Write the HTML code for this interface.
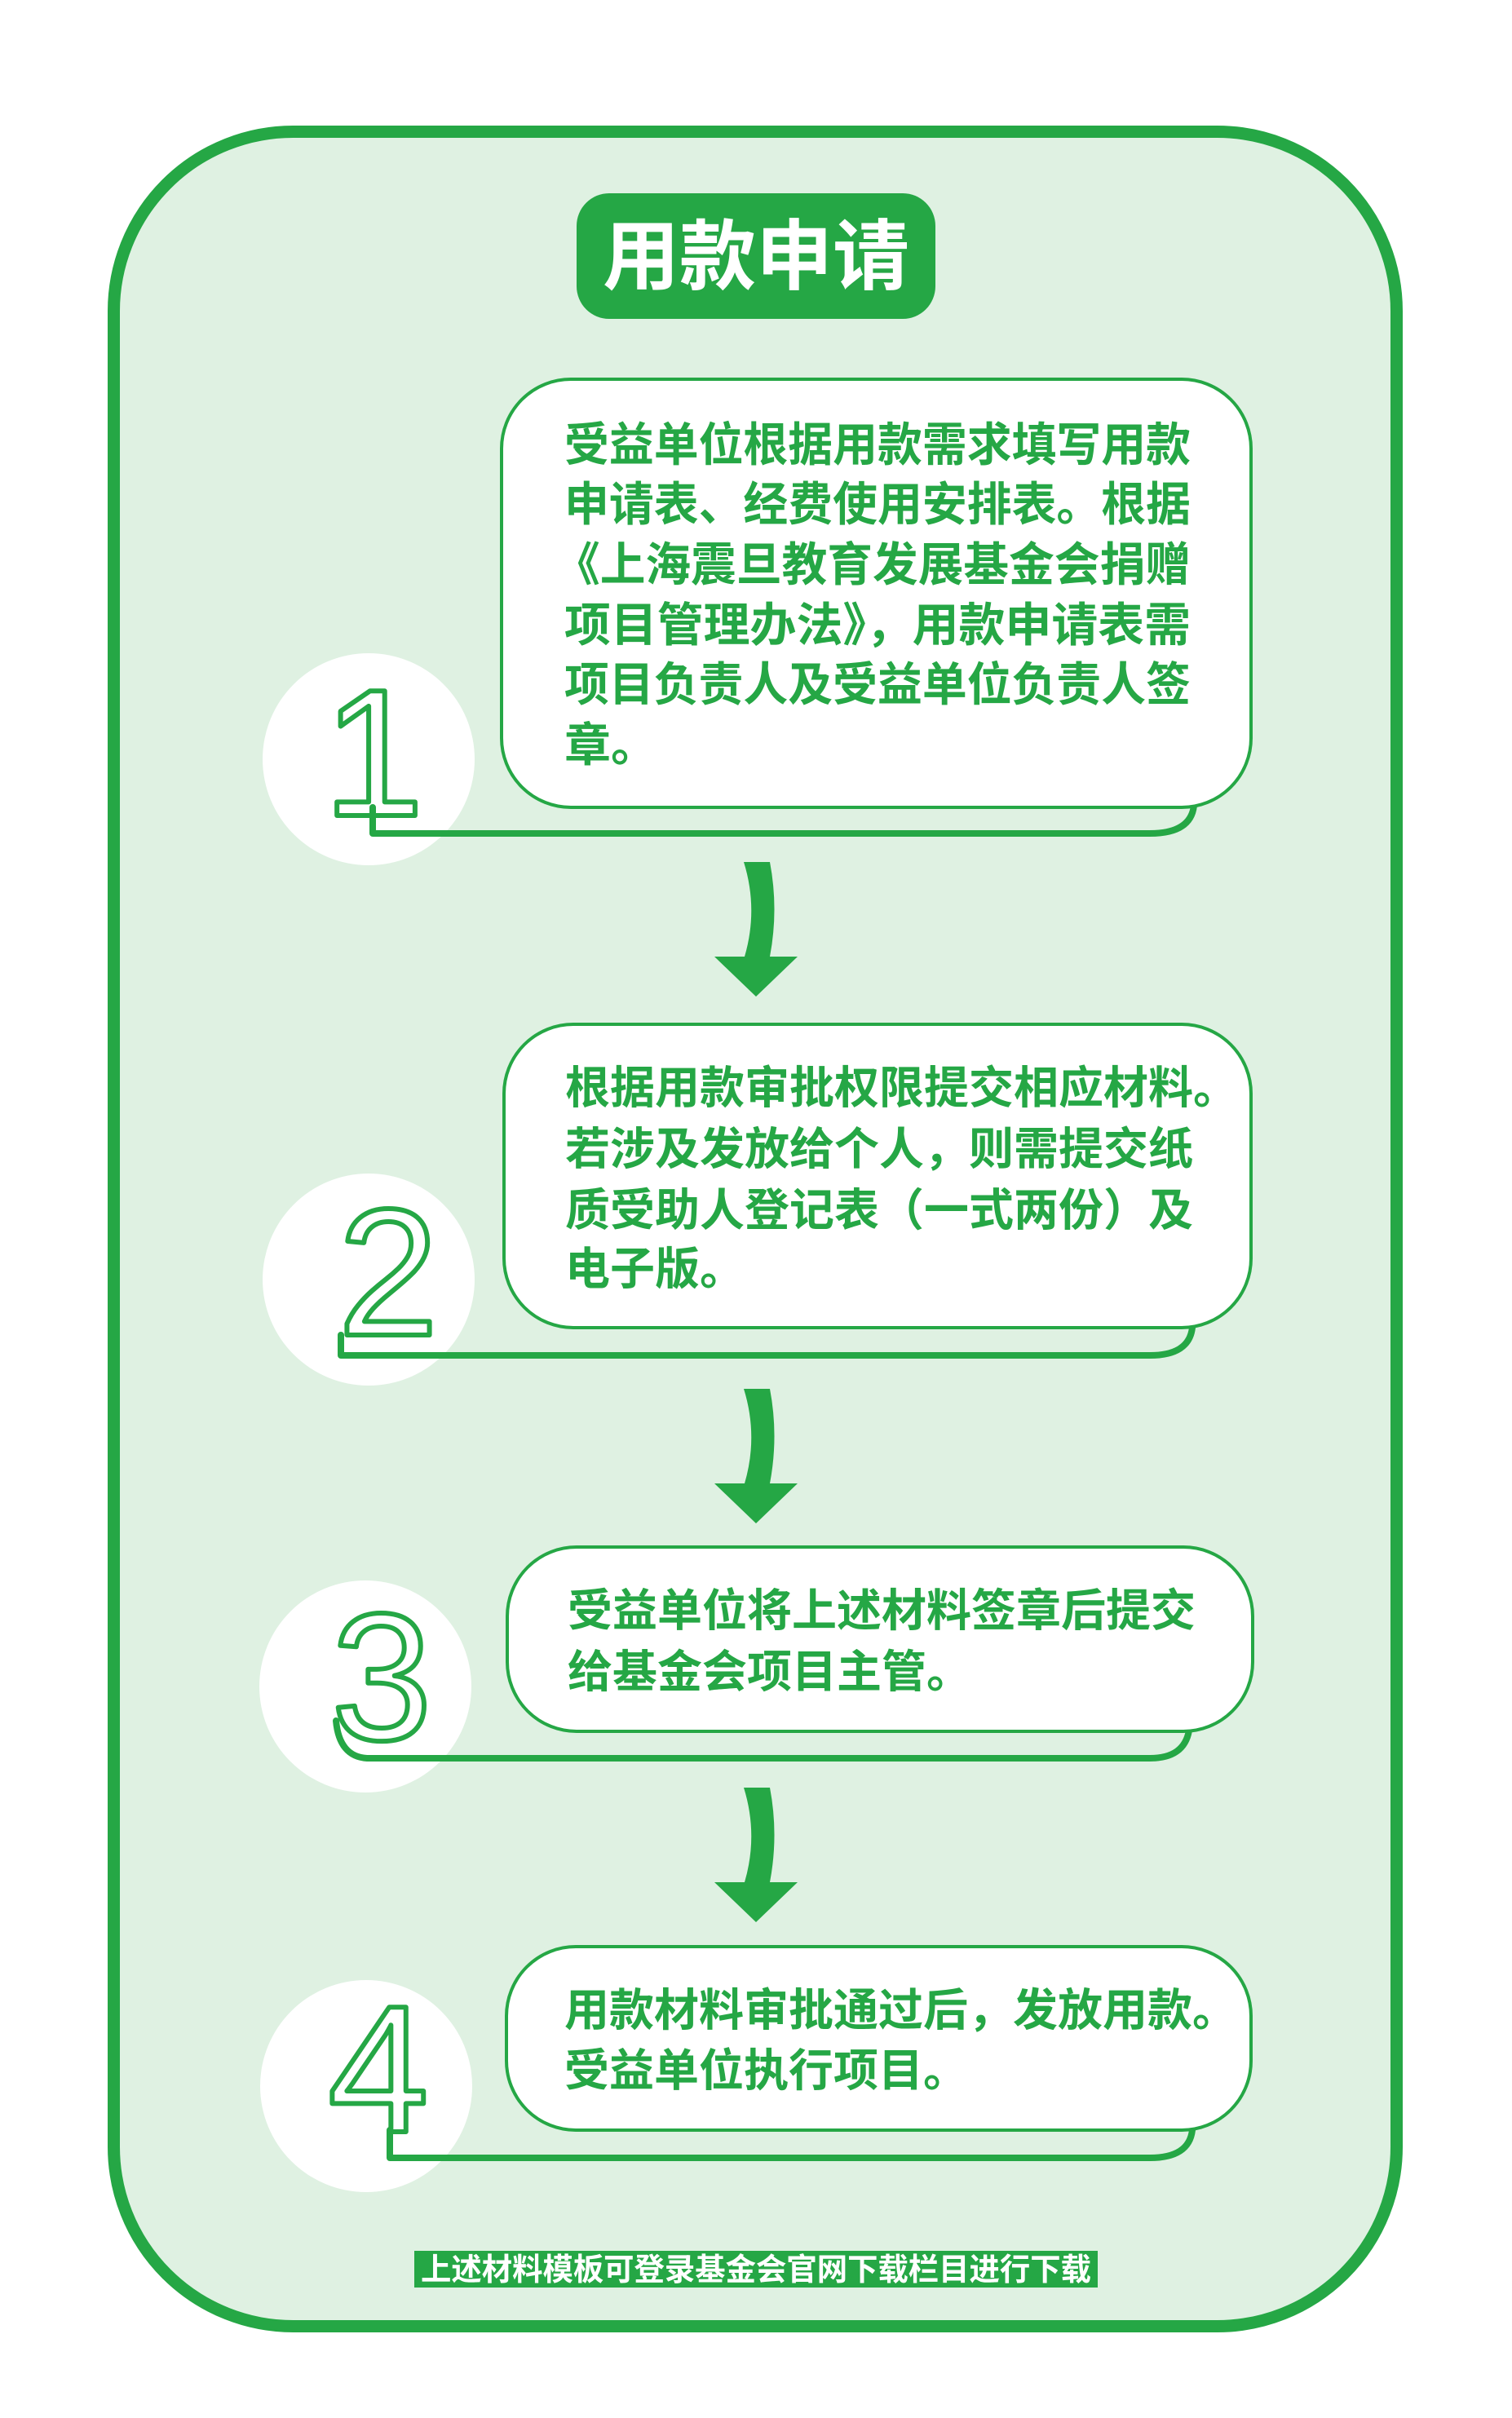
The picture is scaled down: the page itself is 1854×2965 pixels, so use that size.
<!DOCTYPE html>
<html><head><meta charset="utf-8"><style>
html,body{margin:0;padding:0;background:#fff;}
svg{display:block;}
.t{font-family:"Liberation Sans","Noto Sans CJK SC",sans-serif;font-weight:700;fill:#25a745;font-size:55px;}
.d{font-family:"Liberation Sans",sans-serif;font-size:222px;fill:none;stroke:#25a745;stroke-width:6;stroke-linejoin:round;}
</style></head><body>
<svg width="1854" height="2965" viewBox="0 0 1854 2965" xmlns="http://www.w3.org/2000/svg">
<rect x="139.5" y="161.5" width="1573" height="2691" rx="220" ry="220" fill="#dff1e2" stroke="#25a745" stroke-width="15"/>
<rect x="707" y="237" width="440" height="154" rx="40" fill="#25a745"/>
<text x="927" y="347" text-anchor="middle" style="font-family:'Liberation Sans','Noto Sans CJK SC',sans-serif;font-weight:700;font-size:94px;fill:#fff">用款申请</text>

<g fill="#fff">
<circle cx="452" cy="931" r="130"/>
<circle cx="452" cy="1569" r="130"/>
<circle cx="448" cy="2068" r="130"/>
<circle cx="449" cy="2558" r="130"/>
</g>

<g fill="none" stroke="#25a745" stroke-width="8" stroke-linecap="round" stroke-linejoin="round">
<path d="M457,990 L457,1022 L1410,1022 Q1460,1022 1464,988"/>
<path d="M418,1637 L418,1662 L1410,1662 Q1458,1662 1462,1628"/>
<path d="M412,2110 Q416,2154 450,2156 L1410,2156 Q1452,2156 1458,2122"/>
<path d="M478,2612 L478,2646 L1410,2646 Q1458,2646 1462,2612"/>
</g>

<g fill="#fff" stroke="#25a745" stroke-width="4">
<rect x="615" y="465" width="919" height="525" rx="85"/>
<rect x="618" y="1256" width="916" height="372" rx="85"/>
<rect x="622" y="1897" width="914" height="226" rx="85"/>
<rect x="621" y="2387" width="913" height="225" rx="85"/>
</g>

<g class="t" style="font-size:57px">
<text x="692" y="565" textLength="768" lengthAdjust="spacingAndGlyphs">受益单位根据用款需求填写用款</text>
<text x="692" y="638" textLength="768" lengthAdjust="spacingAndGlyphs">申请表、经费使用安排表。根据</text>
<text x="680" y="712" textLength="780" lengthAdjust="spacingAndGlyphs">《上海震旦教育发展基金会捐赠</text>
<text x="692" y="786" textLength="768" lengthAdjust="spacingAndGlyphs">项目管理办法》，用款申请表需</text>
<text x="692" y="859" textLength="768" lengthAdjust="spacingAndGlyphs">项目负责人及受益单位负责人签</text>
<text x="692" y="933">章。</text>
</g>
<g class="t">
<text x="693" y="1353">根据用款审批权限提交相应材料。</text>
<text x="693" y="1428">若涉及发放给个人，则需提交纸</text>
<text x="693" y="1503">质受助人登记表（一式两份）及</text>
<text x="693" y="1575">电子版。</text>
<text x="696" y="1994">受益单位将上述材料签章后提交</text>
<text x="696" y="2069">给基金会项目主管。</text>
<text x="692" y="2484">用款材料审批通过后，发放用款。</text>
<text x="692" y="2558">受益单位执行项目。</text>
</g>

<text class="d" x="458" y="1000" text-anchor="middle">1</text>
<text class="d" x="476" y="1637" text-anchor="middle">2</text>
<text class="d" x="468" y="2133" text-anchor="middle">3</text>
<text class="d" x="464" y="2614" text-anchor="middle">4</text>

<g fill="#25a745">
<g>
<path d="M912,1057 Q930,1115 913,1173 L944,1173 Q955,1115 944,1057 Z"/>
<path d="M876,1173 L978,1173 L927,1222 Z"/>
</g>
<g transform="translate(0,646)"><path d="M912,1057 Q930,1115 913,1173 L944,1173 Q955,1115 944,1057 Z"/><path d="M876,1173 L978,1173 L927,1222 Z"/></g>
<g transform="translate(0,1135)"><path d="M912,1057 Q930,1115 913,1173 L944,1173 Q955,1115 944,1057 Z"/><path d="M876,1173 L978,1173 L927,1222 Z"/></g>
</g>

<rect x="508" y="2760" width="838" height="45" fill="#25a745"/>
<text x="927" y="2796" text-anchor="middle" textLength="822" lengthAdjust="spacingAndGlyphs" style="font-family:'Liberation Sans','Noto Sans CJK SC',sans-serif;font-weight:700;font-size:38px;fill:#fff">上述材料模板可登录基金会官网下载栏目进行下载</text>
</svg>
</body></html>
